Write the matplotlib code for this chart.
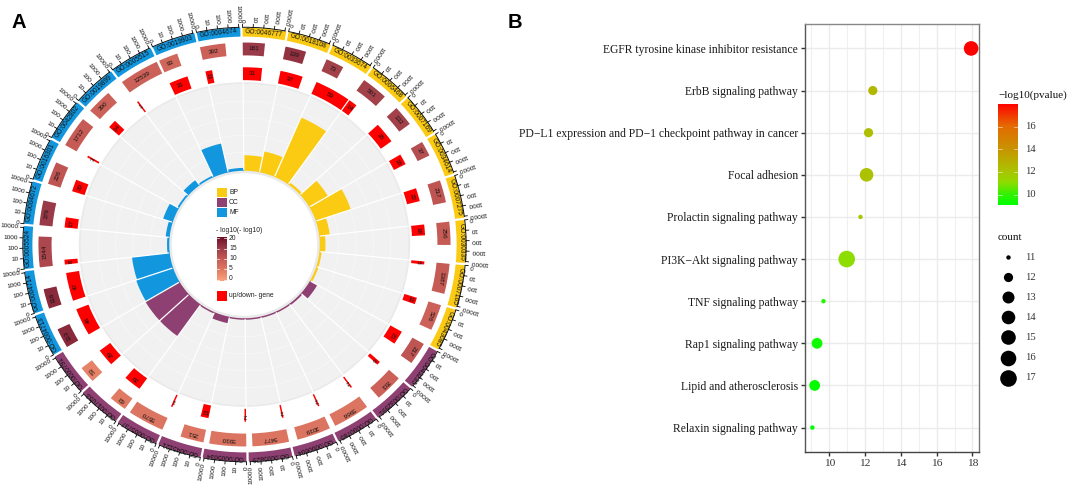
import numpy as np
import matplotlib
matplotlib.use('Agg')
import matplotlib.pyplot as plt
from matplotlib.colors import LinearSegmentedColormap
from matplotlib.patches import Rectangle

# Panel A data, clockwise from the top
go_terms = ['GO:0046777', 'GO:0018108', 'GO:0033674', 'GO:0006468', 'GO:0007169',
            'GO:0034614', 'GO:0007275', 'GO:0030335', 'GO:0007165', 'GO:0043085',
            'GO:0043235', 'GO:0032991', 'GO:0000785', 'GO:0000604', 'GO:0005829',
            'GO:0005634', 'GO:0045121', 'GO:0005737', 'GO:0017053', 'GO:0000791',
            'GO:0004713', 'GO:0004714', 'GO:0005524', 'GO:0004672', 'GO:0016301',
            'GO:0042802', 'GO:0019899', 'GO:0005515', 'GO:0019903', 'GO:0004674']
ontology = ['BP'] * 10 + ['CC'] * 10 + ['MF'] * 10
counts = [181, 139, 73, 501, 132, 37, 217, 256, 1387, 526,
          217, 703, 5966, 3039, 5477, 5930, 251, 5570, 63, 53,
          113, 116, 1544, 379, 226, 1712, 390, 12539, 93, 392]
count_scores = [15, 16, 14, 14, 14, 12, 11, 10, 10, 9,
                11, 9, 6, 6, 6, 6, 6, 6, 5, 4,
                17, 17, 13, 15, 11, 10, 9, 9, 8, 9]
updown = [31, 37, 59, 14, 35, 18, 22, 18, 5, 11,
          23, 6, 2, 2, 2, 2, 13, 1, 29, 29,
          46, 47, 8, 17, 20, 3, 14, 1, 31, 11]
bar_values = [4.1, 5.8, 18.6, 0.3, 5.8, 10.2, 2.6, 1.2, 0.2, 0.2,
              2.0, 0.1, 0, 0, 0, 0, 1.5, 0, 11, 11,
              10.8, 10.5, 0.2, 0.7, 2.5, 0.1, 1.5, 0.1, 8.3, 0.4]
axis_labels = ['0', '10', '100', '1000', '10000']
cbar_a_labels = [0, 5, 10, 15, 20]

# Panel B data, top to bottom
pathways = ['EGFR tyrosine kinase inhibitor resistance', 'ErbB signaling pathway',
            'PD\u2212L1 expression and PD\u22121 checkpoint pathway in cancer', 'Focal adhesion',
            'Prolactin signaling pathway', 'PI3K\u2212Akt signaling pathway',
            'TNF signaling pathway', 'Rap1 signaling pathway',
            'Lipid and atherosclerosis', 'Relaxin signaling pathway']
pvalue_log = [17.93, 12.43, 12.19, 12.08, 11.74, 10.97, 9.67, 9.31, 9.18, 9.05]
path_counts = [15, 12, 12, 14, 11, 17, 11, 13, 13, 11]
legend_counts = [11, 12, 13, 14, 15, 16, 17]

W, H = 1072, 488
plt.rcParams['font.family'] = ['Liberation Sans', 'DejaVu Sans']
fig = plt.figure(figsize=(W / 100, H / 100), dpi=100)


def rect(left, top, right, bottom):
    # pixel box to figure fraction
    return [left / W, 1 - bottom / H, (right - left) / W, (bottom - top) / H]


onto_colors = {'BP': '#FBCB14', 'CC': '#8E4072', 'MF': '#1297DF'}
score_cmap = LinearSegmentedColormap.from_list(
    'score', ['#FBA27D', '#E07A62', '#C65B55', '#9B3B48', '#6E0F26'])

# Panel A: polar axes, very slightly wider than tall like the reference
cx, cy, rmax = 244.5, 244.5, 240
ax = fig.add_axes(rect(cx - rmax * 1.01, cy - rmax * 0.99, cx + rmax * 1.01, cy + rmax * 0.99),
                  projection='polar')
ax.set_aspect('auto')
ax.set_theta_zero_location('N')
ax.set_theta_direction(-1)
ax.set_rlim(0, rmax)
ax.axis('off')

step = 12
start_deg = -0.5 + np.arange(30) * step
r0, px_per_unit = 76, 3.44

# grey background tracks
ax.bar(0, 4, width=2 * np.pi, bottom=72, color='#EAEAEA', linewidth=0, zorder=1)
ax.bar(0, 86, width=2 * np.pi, bottom=r0, color='#F1F1F1', linewidth=0, zorder=1)
ax.bar(0, 2, width=2 * np.pi, bottom=r0 + 86, color='#EAEAEA', linewidth=0, zorder=1)
theta_circle = np.linspace(0, 2 * np.pi, 361)
for k in range(1, 5):
    ax.plot(theta_circle, np.full(361, r0 + k * 17.2), color='#F8F8F8', lw=0.5, zorder=2)

# inner bars
for i, val in enumerate(bar_values):
    ax.bar(np.radians(start_deg[i]), r0 + val * px_per_unit - 74.5, width=np.radians(step),
           bottom=74.5, align='edge', color=onto_colors[ontology[i]], linewidth=0, zorder=3)
for d in start_deg:
    ax.plot(np.radians([d, d]), [r0, 164], color='white', lw=0.9, zorder=4)

for i, term in enumerate(go_terms):
    s = start_deg[i]
    mid = s + 5.7

    # up/down ring, width follows the gene number
    w = max(updown[i] / 59 * 11.6, 0.5)
    ax.bar(np.radians(s), 13, width=np.radians(w), bottom=166, align='edge',
           color='#FF0000', linewidth=0, zorder=3)
    ax.text(np.radians(s + w / 2), 172.5, str(updown[i]), rotation=-(s + w / 2),
            rotation_mode='anchor', ha='center', va='center', fontsize=4.6, color='#111111', zorder=5)

    # count ring, width on a log axis
    w = np.log10(counts[i] + 1) * 2.75
    ax.bar(np.radians(s), 13, width=np.radians(w), bottom=191, align='edge',
           color=score_cmap(count_scores[i] / 20), linewidth=0, zorder=3)
    ax.text(np.radians(s + w / 2), 197.5, str(counts[i]), rotation=-(s + w / 2),
            rotation_mode='anchor', ha='center', va='center', fontsize=4.6, color='#111111', zorder=5)

    # outer coloured band with the term
    ax.bar(np.radians(s), 9, width=np.radians(11.4), bottom=210, align='edge',
           color=onto_colors[ontology[i]], linewidth=0, zorder=3)
    ax.text(np.radians(mid), 214.5, term, rotation=-mid, rotation_mode='anchor',
            ha='center', va='center', fontsize=4.8, color='#111111', zorder=5)

    # log axis on top of the band
    ax.bar(np.radians(s), 0.9, width=np.radians(11.2), bottom=219, align='edge',
           color='black', linewidth=0, zorder=4)
    for k, lab in enumerate(axis_labels):
        d = s + k * 2.75
        ax.plot(np.radians([d, d]), [219.5, 222.5], color='black', lw=0.6, zorder=4)
        ax.text(np.radians(d), 224, lab, rotation=270 - d, rotation_mode='anchor',
                ha='right', va='center', fontsize=4.6, color='#111111', zorder=5)

# overlay axes in pixels for the legends and panel letters
ov = fig.add_axes([0, 0, 1, 1])
ov.set_xlim(0, W)
ov.set_ylim(H, 0)
ov.axis('off')
ov.patch.set_alpha(0)

for name, top in zip(['BP', 'CC', 'MF'], [188, 198, 208]):
    ov.add_patch(Rectangle((217, top), 9.5, 9, color=onto_colors[name], linewidth=0))
    ov.text(229, top + 4.5, name, fontsize=4.9, va='center', ha='left', color='#222222')
ov.text(216, 230, '- log10(- log10)', fontsize=4.9, va='center', ha='left', color='#222222')
for v in cbar_a_labels:
    ov.text(229, 279 - v * 2, str(v), fontsize=4.9, va='center', ha='left', color='#222222')
ov.add_patch(Rectangle((217, 291), 9.5, 9.5, color='#FF0000', linewidth=0))
ov.text(229, 295.5, 'up/down- gene', fontsize=4.9, va='center', ha='left', color='#222222')

ov.text(11, 22.3, 'A', fontsize=14.5, fontweight='bold', va='center', ha='left', color='black')
ov.text(508, 22.3, 'B', fontsize=14.5, fontweight='bold', va='center', ha='left', color='black')

cb_a = fig.add_axes(rect(216.5, 237, 226.5, 281))
cb_a.imshow(np.linspace(1, 0, 64)[:, None], cmap=score_cmap, aspect='auto', extent=[0, 1, -0.5, 20.5])
cb_a.axis('off')
for v in cbar_a_labels:
    cb_a.plot([0, 0.25], [v, v], color='white', lw=0.5)
    cb_a.plot([0.75, 1], [v, v], color='white', lw=0.5)
cb_a.set_xlim(0, 1)
cb_a.set_ylim(-0.5, 20.5)

# Panel B: bubble plot
serif = ['Liberation Serif', 'DejaVu Serif']
p_cmap = LinearSegmentedColormap.from_list(
    'pv', [(0, '#00FF00'), (0.11, '#38F000'), (0.22, '#90DC00'), (0.35, '#AEBF00'),
           (0.55, '#C89400'), (0.78, '#E56A00'), (1, '#FF0000')])
p_min, p_max = 9.05, 17.96
radius_px = {11: 2.2, 12: 4.6, 13: 5.4, 14: 6.8, 15: 7.3, 16: 7.8, 17: 8.3}


def bubble_size(c):
    return (2 * radius_px[c] * 0.72) ** 2


axb = fig.add_axes(rect(804.7, 24, 979, 452))
y_pos = np.arange(len(pathways), 0, -1)
axb.set_xlim(8.62, 18.37)
axb.set_ylim(0.42, 10.58)
axb.set_xticks([10, 12, 14, 16, 18])
axb.set_xticks([9, 11, 13, 15, 17], minor=True)
axb.set_yticks(y_pos)
axb.set_yticklabels(pathways, family=serif, fontsize=8.35, color='#1A1A1A')
axb.grid(True, which='major', color='#EBEBEB', lw=1.0)
axb.grid(True, which='minor', color='#F0F0F0', lw=0.8)
axb.set_axisbelow(True)
axb.scatter(pvalue_log, y_pos, s=[bubble_size(c) for c in path_counts], c=pvalue_log,
            cmap=p_cmap, vmin=p_min, vmax=p_max, linewidths=0, zorder=3, clip_on=False)
axb.tick_params(axis='y', which='major', length=3, width=1, color='#333333', pad=2)
axb.tick_params(axis='x', which='major', length=3, width=1, color='#333333', pad=2, labelsize=8.2,
                labelcolor='#333333')
axb.tick_params(axis='x', which='minor', length=0)
for lab in axb.get_xticklabels():
    lab.set_family(serif)
axb.spines['left'].set_color('#555555')
axb.spines['bottom'].set_color('#444444')
axb.spines['top'].set_color('#888888')
axb.spines['right'].set_color('#777777')
for side in axb.spines:
    axb.spines[side].set_linewidth(1.0)

# colour bar of panel B
cb_b = fig.add_axes(rect(998.3, 104.3, 1018.3, 205.3))
cb_b.imshow(np.linspace(1, 0, 128)[:, None], cmap=p_cmap, aspect='auto',
            extent=[0, 1, p_min, p_max])
cb_b.axis('off')
for v in [10, 12, 14, 16]:
    cb_b.plot([0, 0.2], [v, v], color='white', alpha=0.7, lw=0.5)
    cb_b.plot([0.8, 1], [v, v], color='white', alpha=0.7, lw=0.5)
    ov.text(1025, 205.3 - (v - p_min) * 11.33, str(v), family=serif, fontsize=7.6,
            va='center', ha='left', color='#333333')
cb_b.set_xlim(0, 1)
cb_b.set_ylim(p_min, p_max)
ov.text(998, 95, '\u2212log10(pvalue)', family=serif, fontsize=8, va='center', ha='left', color='#111111')

# size legend
ov.text(998, 237, 'count', family=serif, fontsize=8, va='center', ha='left', color='#111111')
for k, c in enumerate(legend_counts):
    y = 257 + k * 20.1
    r = {13: 6.0}.get(c, radius_px[c])
    ov.scatter([1008.3], [y], s=(2 * r * 0.72) ** 2, color='black', linewidths=0)
    ov.text(1025, y, str(c), family=serif, fontsize=7.6, va='center', ha='left', color='#333333')

fig.savefig('out.png', dpi=100, facecolor='white')
plt.close(fig)
